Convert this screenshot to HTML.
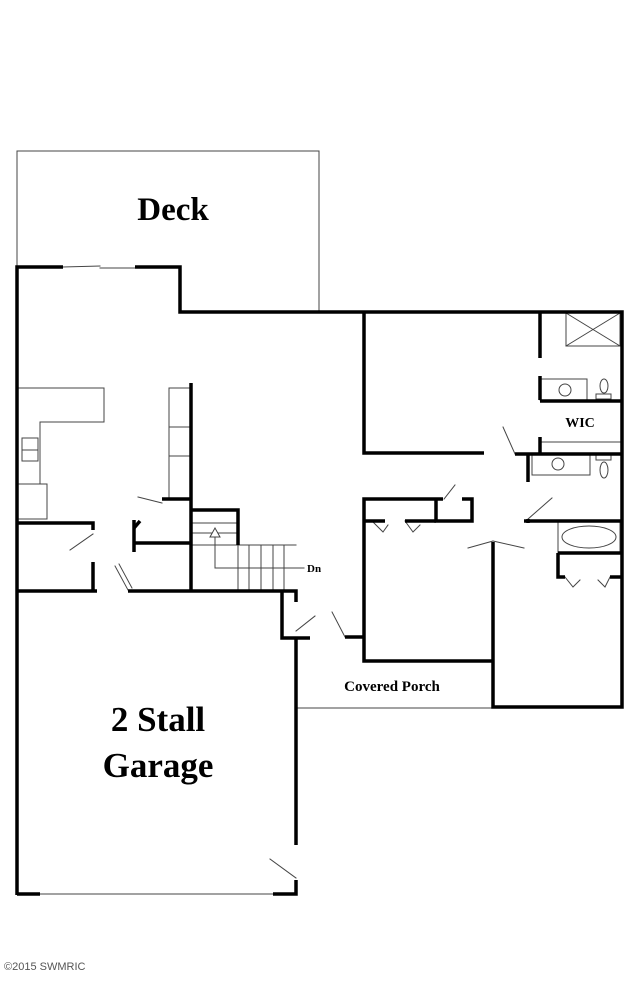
<!DOCTYPE html>
<html><head><style>html,body{margin:0;padding:0;background:#fff;}svg{display:block}</style></head>
<body>
<svg width="640" height="1000" viewBox="0 0 640 1000" xmlns="http://www.w3.org/2000/svg">
<g fill="none" stroke="#000" stroke-linecap="square">
<!-- deck -->
<g stroke-width="1" stroke="#444">
<polyline points="17,267 17,151 319,151 319,312"/>
<line x1="63" y1="267" x2="100" y2="266"/><line x1="100" y1="268" x2="135" y2="268"/>
<!-- kitchen -->
<polyline points="17,388 104,388 104,422 40,422 40,484"/>
<rect x="17" y="484" width="30" height="35"/>
<rect x="22" y="438" width="16" height="12"/><line x1="22" y1="450" x2="38" y2="450"/><rect x="22" y="450" width="16" height="11"/>
<polyline points="191,388 169,388 169,499"/>
<line x1="169" y1="427" x2="191" y2="427"/><line x1="169" y1="456" x2="191" y2="456"/>
<!-- stairs -->
<line x1="193" y1="523" x2="238" y2="523"/><line x1="193" y1="533" x2="238" y2="533"/>
<line x1="193" y1="545" x2="296" y2="545"/>
<line x1="238" y1="545" x2="238" y2="591"/><line x1="249" y1="545" x2="249" y2="591"/><line x1="261" y1="545" x2="261" y2="591"/><line x1="273" y1="545" x2="273" y2="591"/><line x1="284" y1="545" x2="284" y2="591"/>
<polyline points="215,537 215,568 304,568"/>
<polygon points="215,528 210,537 220,537" fill="#fff"/>
<!-- master bath -->
<rect x="566" y="313" width="54" height="33"/><line x1="566" y1="313" x2="620" y2="346"/><line x1="620" y1="313" x2="566" y2="346"/>
<rect x="540" y="379" width="47" height="21"/><circle cx="565" cy="390" r="6"/>
<ellipse cx="604" cy="386" rx="4" ry="7"/><rect x="596" y="394" width="15" height="5"/>
<line x1="540" y1="442" x2="620" y2="442"/>
<rect x="532" y="454" width="58" height="21"/><circle cx="558" cy="464" r="6"/>
<rect x="596" y="455" width="15" height="5"/><ellipse cx="604" cy="470" rx="4" ry="8"/>
<rect x="558" y="521" width="62" height="32"/><ellipse cx="589" cy="537" rx="27" ry="11"/>
<!-- porch -->
<line x1="297" y1="708" x2="493" y2="708"/>
<line x1="40" y1="894" x2="273" y2="894"/>
<!-- door swings -->
<line x1="138" y1="497" x2="162" y2="503"/>
<line x1="70" y1="550" x2="93" y2="534"/>
<line x1="115" y1="566" x2="128" y2="590"/><line x1="119" y1="564" x2="132" y2="588"/>
<line x1="296" y1="631" x2="315" y2="616"/>
<line x1="332" y1="612" x2="345" y2="637"/>
<line x1="503" y1="427" x2="515" y2="454"/>
<line x1="444" y1="499" x2="455" y2="485"/>
<line x1="528" y1="519" x2="552" y2="498"/>
<line x1="468" y1="548" x2="493" y2="541"/><line x1="493" y1="541" x2="524" y2="548"/>
<line x1="270" y1="859" x2="296" y2="878"/>
<polyline points="372,521 383,532 388,525"/><polyline points="405,521 413,532 420,525"/>
<polyline points="565,577 573,587 580,580"/><polyline points="610,577 605,587 598,580"/>
</g>
<g stroke-width="3.5" stroke-linecap="butt">
<polyline points="17,895 17,267 63,267"/>
<polyline points="135,267 180,267 180,312 622,312 622,707 493,707 493,542"/>
<polyline points="364,313 364,453 484,453"/>
<line x1="540" y1="313" x2="540" y2="358"/><line x1="540" y1="376" x2="540" y2="400"/><line x1="540" y1="437" x2="540" y2="454"/>
<line x1="540" y1="401" x2="622" y2="401"/>
<line x1="515" y1="454" x2="622" y2="454"/><line x1="528" y1="454" x2="528" y2="482"/>
<polyline points="443,499 364,499 364,661 493,661"/>
<polyline points="462,499 472,499 472,521 436,521 436,499"/>
<polyline points="364,521 385,521"/><line x1="405" y1="521" x2="436" y2="521"/>
<polyline points="524,521 622,521"/><line x1="528" y1="519" x2="528" y2="523"/>
<polyline points="558,553 558,577 565,577"/><line x1="610" y1="577" x2="622" y2="577"/><line x1="558" y1="553" x2="622" y2="553"/>
<polyline points="345,637 364,637"/>
<line x1="191" y1="383" x2="191" y2="591"/>
<line x1="162" y1="499" x2="191" y2="499"/>
<polyline points="191,510 238,510 238,545"/>
<polyline points="134,520 134,552"/><line x1="134" y1="543" x2="191" y2="543"/><line x1="134" y1="528" x2="140" y2="521"/>
<polyline points="17,523 93,523 93,530"/>
<line x1="93" y1="562" x2="93" y2="591"/>
<line x1="17" y1="591" x2="97" y2="591"/>
<polyline points="128,591 296,591 296,602"/>
<polyline points="282,591 282,638 310,638"/>
<line x1="296" y1="638" x2="296" y2="845"/>
<line x1="17" y1="894" x2="40" y2="894"/>
<polyline points="273,894 296,894 296,880"/>
</g>
</g>
<g font-family="'Liberation Serif',serif" font-weight="bold" fill="#000">
<text x="173" y="220" font-size="33" text-anchor="middle">Deck</text>
<text x="158" y="731" font-size="35" text-anchor="middle">2 Stall</text>
<text x="158" y="777" font-size="35" text-anchor="middle">Garage</text>
<text x="392" y="691" font-size="15" text-anchor="middle">Covered Porch</text>
<text x="580" y="427" font-size="14" text-anchor="middle">WIC</text>
<text x="307" y="572" font-size="11">Dn</text>
</g>
<text x="4" y="970" font-family="'Liberation Sans',sans-serif" font-size="11" fill="#555">©2015 SWMRIC</text>
</svg>
</body></html>
